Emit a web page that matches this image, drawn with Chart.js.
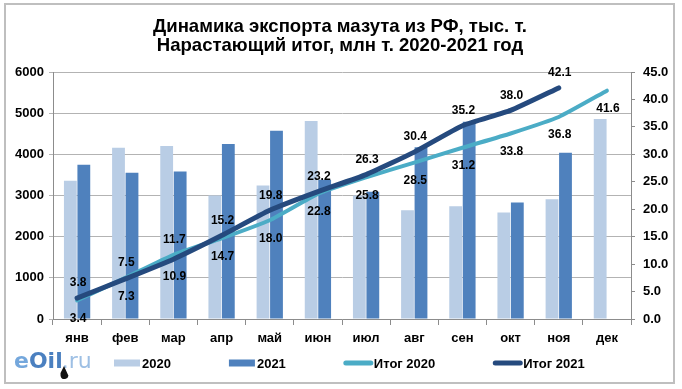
<!DOCTYPE html>
<html><head><meta charset="utf-8">
<script src="https://cdn.jsdelivr.net/npm/chart.js@4.4.0/dist/chart.umd.min.js"></script>
<style>html,body{margin:0;padding:0;background:#fff;}#wrap{width:682px;height:389px;}</style>
</head><body><div id="wrap"><canvas id="c" width="682" height="389"></canvas></div>
<script>
const titleLines = ['Динамика экспорта мазута из РФ, тыс. т.', 'Нарастающий итог, млн т. 2020-2021 год'];
const months = ['янв','фев','мар','апр','май','июн','июл','авг','сен','окт','ноя','дек'];
const export2020 = [3360,4160,4200,3000,3240,4810,3000,2640,2740,2590,2910,4860];
const export2021 = [3750,3550,3580,4250,4570,3380,3090,4170,4790,2830,4040,null];
const total2020 = [3.4,7.5,11.7,14.7,18.0,22.8,25.8,28.5,31.2,33.8,36.8,41.6];
const total2021 = [3.8,7.3,10.9,15.2,19.8,23.2,26.3,30.4,35.2,38.0,42.1,null];
const seriesNames = ['2020','2021','Итог 2020','Итог 2021'];
const leftAxis = {min:0, max:6000, step:1000};
const rightAxis = {min:0, max:45, step:5};

const FONT = '"Liberation Sans", Arial, sans-serif';
const colors = ['#B9CDE5','#4F81BD','#4BACC6','#254A7E'];

const framePlugin = {
  id:'frame',
  beforeDraw(chart){
    const ctx = chart.ctx;
    ctx.save();
    ctx.fillStyle = '#fff';
    ctx.fillRect(0,0,chart.width,chart.height);
    ctx.strokeStyle = '#bfbfbf';
    ctx.lineWidth = 2;
    ctx.strokeRect(5,4,669,379);
    ctx.restore();
  },
  afterDraw(chart){
    const ctx = chart.ctx;
    ctx.save();
    // title
    ctx.fillStyle = '#000';
    ctx.font = 'bold 19px ' + FONT;
    ctx.textBaseline = 'alphabetic';
    ctx.textAlign = 'center';
    const w1 = ctx.measureText(titleLines[0]).width;
    const sx = 374 / w1;
    [[titleLines[0],32],[titleLines[1],51]].forEach(([t,y])=>{
      ctx.save();
      ctx.translate(340,y);
      ctx.scale(sx,1);
      ctx.fillText(t,0,0);
      ctx.restore();
    });
    // legend
    let x = 114; const ly = 363;
    ctx.font = 'bold 13px ' + FONT;
    ctx.textAlign = 'left';
    ctx.textBaseline = 'middle';
    chart.data.datasets.forEach((ds,i)=>{
      if (ds.type === 'line') {
        ctx.strokeStyle = ds.borderColor;
        ctx.lineWidth = 5;
        ctx.lineCap = 'round';
        ctx.beginPath(); ctx.moveTo(x+2,ly); ctx.lineTo(x+27,ly); ctx.stroke();
        x += 30;
      } else {
        ctx.fillStyle = ds.backgroundColor;
        ctx.fillRect(x, ly-3.5, 26, 7);
        x += 28;
      }
      ctx.fillStyle = '#000';
      ctx.fillText(ds.label, x, ly+1);
      x += ctx.measureText(ds.label).width + 58;
    });
    // logo
    ctx.textBaseline = 'alphabetic';
    ctx.font = 'bold 22px "DejaVu Sans", sans-serif';
    ctx.fillStyle = '#74a7dc';
    ctx.fillText('e', 14, 368);
    let lx = 14 + ctx.measureText('e').width;
    ctx.fillStyle = '#4b80c0';
    ctx.fillText('Oil', lx, 368);
    lx += ctx.measureText('Oil').width;
    ctx.font = '22px "DejaVu Sans", sans-serif';
    ctx.fillStyle = '#9dbfe4';
    ctx.fillText('.ru', lx - 1, 368);
    ctx.fillStyle = '#111';
    ctx.beginPath();
    ctx.moveTo(64,366); ctx.lineTo(60.5,373); ctx.arc(64.5,375,4,Math.PI*0.95,Math.PI*0.05,true); ctx.lineTo(64,366);
    ctx.fill();
    ctx.restore();
  }
};

const valuePlugin = {
  id:'vals',
  afterDatasetsDraw(chart){
    const ctx = chart.ctx;
    ctx.save();
    ctx.font = 'bold 12px ' + FONT;
    ctx.fillStyle = '#000';
    ctx.textAlign = 'center';
    ctx.textBaseline = 'middle';
    [2,3].forEach(di=>{
      const ds = chart.data.datasets[di];
      const other = chart.data.datasets[di===2?3:2];
      const meta = chart.getDatasetMeta(di);
      meta.data.forEach((pt,i)=>{
        const v = ds.data[i];
        if (v == null) return;
        const o = other.data[i];
        const above = o != null && v > o;
        ctx.fillText(v.toFixed(1), pt.x + 1, pt.y + (above ? -15 : 18));
      });
    });
    ctx.restore();
  }
};

new Chart(document.getElementById('c'), {
  data: {
    labels: months,
    datasets: [
      {type:'bar', label:seriesNames[0], data:export2020, backgroundColor:colors[0], yAxisID:'y', order:3, categoryPercentage:0.56, barPercentage:0.95},
      {type:'bar', label:seriesNames[1], data:export2021, backgroundColor:colors[1], yAxisID:'y', order:3, categoryPercentage:0.56, barPercentage:0.95},
      {type:'line', label:seriesNames[2], data:total2020, borderColor:colors[2], backgroundColor:colors[2], borderWidth:4, pointRadius:0, tension:0.15, yAxisID:'y1', order:2, borderCapStyle:'round', fill:false},
      {type:'line', label:seriesNames[3], data:total2021, borderColor:colors[3], backgroundColor:colors[3], borderWidth:5, pointRadius:0, tension:0.15, yAxisID:'y1', order:1, borderCapStyle:'round', fill:false}
    ]
  },
  options: {
    responsive:false,
    animation:false,
    devicePixelRatio:1,
    layout:{padding:{top:72,left:0,right:0,bottom:0}},
    plugins:{legend:{display:false}, title:{display:false}, tooltip:{enabled:false}},
    scales:{
      x:{
        offset:true,
        grid:{drawOnChartArea:false, drawTicks:true, tickLength:6, color:'#8c8c8c', offset:true},
        border:{color:'#8c8c8c'},
        ticks:{font:{family:FONT,size:13,weight:'bold'}, color:'#000', padding:6, maxRotation:0, autoSkip:false},
        afterFit(s){ s.height = 70; }
      },
      y:{
        position:'left', min:leftAxis.min, max:leftAxis.max,
        ticks:{stepSize:leftAxis.step, font:{family:FONT,size:13,weight:'bold'}, color:'#000', padding:5, callback:v=>String(v)},
        grid:{color:'#b3b3b3', tickLength:4},
        border:{color:'#8c8c8c'},
        afterFit(s){ s.width = 53; }
      },
      y1:{
        position:'right', min:rightAxis.min, max:rightAxis.max,
        ticks:{stepSize:rightAxis.step, font:{family:FONT,size:13,weight:'bold'}, color:'#000', padding:8, callback:v=>Number(v).toFixed(1)},
        grid:{drawOnChartArea:false, tickLength:4, color:'#8c8c8c'},
        border:{color:'#8c8c8c'},
        afterFit(s){ s.width = 51; }
      }
    }
  },
  plugins:[framePlugin, valuePlugin]
});
</script>
</body></html>
